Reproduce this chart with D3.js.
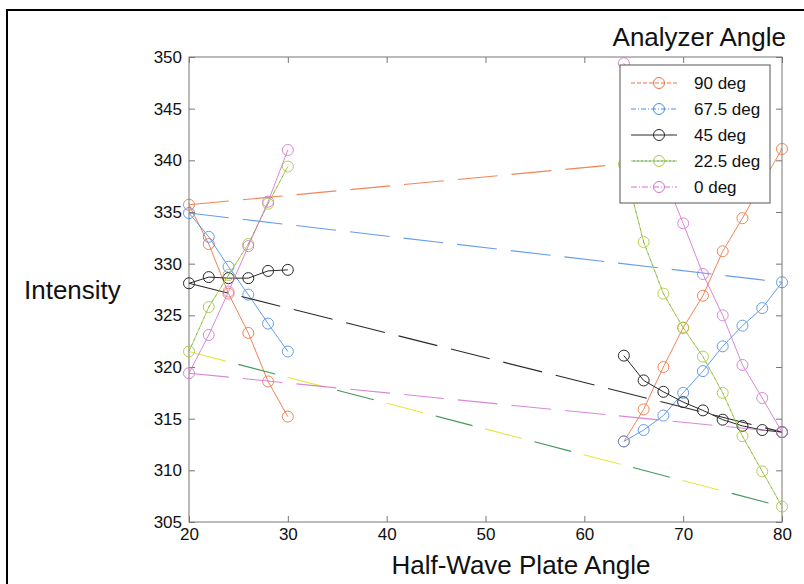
<!DOCTYPE html>
<html><head><meta charset="utf-8">
<script src="https://cdn.jsdelivr.net/npm/d3@7"></script>
<style>
html,body{margin:0;padding:0;background:#fff;}
text{font-family:Arial,"Liberation Sans",sans-serif;fill:#111;}
</style></head>
<body><svg id="chart" width="804" height="584"></svg>
<script>
// ---- data ----
const angles = [20,22,24,26,28,30,64,66,68,70,72,74,76,78,80];
const deg90  = [335.7,331.9,327.1,323.3,318.6,315.2, 312.8,315.9,320.0,323.8,326.9,331.2,334.4,337.8,341.1];
const deg675 = [334.9,332.6,329.7,327.0,324.2,321.5, 312.8,313.9,315.3,317.5,319.6,322.0,324.0,325.7,328.2];
const deg45  = [328.1,328.7,328.6,328.6,329.3,329.4, 321.1,318.7,317.6,316.6,315.8,314.9,314.3,313.9,313.7];
const deg225 = [321.5,325.8,328.9,331.9,335.8,339.4, 339.6,332.1,327.1,323.8,321.0,317.5,313.3,309.9,306.5];
const deg0   = [319.4,323.1,327.3,331.7,336.0,341.0, 349.4,344.0,338.7,333.9,329.0,325.0,320.2,317.0,313.7];
const seriesNames = ["90 deg","67.5 deg","45 deg","22.5 deg","0 deg"];
const xTicks = [20,30,40,50,60,70,80];
const yTicks = [305,310,315,320,325,330,335,340,345,350];

const seriesValues = [deg90, deg675, deg45, deg225, deg0];
const styles = [
  {color:"#f0703a", op:0.85, legendDash:"4 2"},
  {color:"#4a8ee6", op:0.85, legendDash:"5 2 1 2"},
  {color:"#2a2a2a", op:1, legendDash:null},
  {color:"#a9c83c", op:0.9, legendDash:"2 2", alt:"#2e8b4a", altLong:"#e4e42a"},
  {color:"#d272cf", op:0.85, legendDash:"6 2 1 2"}
];

const svg = d3.select("#chart");
svg.append("rect").attr("x",0).attr("y",0).attr("width",804).attr("height",584).attr("fill","#fff");
// outer frame
svg.append("rect").attr("x",7).attr("y",10).attr("width",820).attr("height",600)
  .attr("fill","none").attr("stroke","#000").attr("stroke-width",2);

const L=189,R=782,T=57,B=522;
const x = d3.scaleLinear().domain([20,80]).range([L,R]);
const y = d3.scaleLinear().domain([305,350]).range([B,T]);

// axes box
svg.append("rect").attr("x",L).attr("y",T).attr("width",R-L).attr("height",B-T)
  .attr("fill","none").attr("stroke","#777").attr("stroke-width",1);

function styleAxis(g){
  g.select(".domain").remove();
  g.selectAll(".tick line").attr("stroke","#777");
  g.selectAll("text").attr("fill","#111").style("font-size","17px").style("font-family","Arial, 'Liberation Sans', sans-serif");
}
svg.append("g").attr("transform",`translate(${L},0)`)
  .call(d3.axisLeft(y).tickValues(yTicks).tickSize(-6).tickPadding(7).tickFormat(d3.format("d"))).call(styleAxis);
svg.append("g").attr("transform",`translate(${R},0)`)
  .call(d3.axisRight(y).tickValues(yTicks).tickSize(-6).tickFormat("")).call(styleAxis);
svg.append("g").attr("transform",`translate(0,${B})`)
  .call(d3.axisBottom(x).tickValues(xTicks).tickSize(-6).tickPadding(6).tickFormat(d3.format("d"))).call(styleAxis);
svg.append("g").attr("transform",`translate(0,${T})`)
  .call(d3.axisTop(x).tickValues(xTicks).tickSize(-6).tickFormat("")).call(styleAxis);

// titles
svg.append("text").attr("x",521).attr("y",574).attr("text-anchor","middle")
  .style("font-size","26px").text("Half-Wave Plate Angle");
svg.append("text").attr("x",24).attr("y",299).style("font-size","26px").text("Intensity");
svg.append("text").attr("x",786).attr("y",46).attr("text-anchor","end")
  .style("font-size","26px").text("Analyzer Angle");

// series
const iMin = angles.indexOf(d3.min(angles)), iMax = angles.indexOf(d3.max(angles));
seriesValues.forEach((vals,si)=>{
  const st = styles[si];
  const g = svg.append("g").attr("opacity",st.op);
  // short segments inside each cluster
  for(let i=0;i<angles.length-1;i++){
    if(angles[i+1]-angles[i] > 2) continue;
    g.append("line").attr("x1",x(angles[i])).attr("y1",y(vals[i]))
      .attr("x2",x(angles[i+1])).attr("y2",y(vals[i+1]))
      .attr("stroke",st.color).attr("stroke-width",1);
    if(st.alt){
      g.append("line").attr("x1",x(angles[i])).attr("y1",y(vals[i]))
        .attr("x2",x(angles[i+1])).attr("y2",y(vals[i+1]))
        .attr("stroke",st.alt).attr("stroke-width",1).attr("stroke-dasharray","2 4").attr("opacity",0.5);
    }
  }
  // long connector between the 20 deg and 80 deg points
  const lc = g.append("line").attr("x1",x(angles[iMin])).attr("y1",y(vals[iMin]))
    .attr("x2",x(angles[iMax])).attr("y2",y(vals[iMax])).attr("stroke-width",1.1);
  if(st.alt){
    lc.attr("stroke",st.altLong).attr("stroke-dasharray","38 64");
    g.append("line").attr("x1",x(angles[iMin])).attr("y1",y(vals[iMin]))
      .attr("x2",x(angles[iMax])).attr("y2",y(vals[iMax])).attr("stroke-width",1.1)
      .attr("stroke",st.alt).attr("stroke-dasharray","38 64").attr("stroke-dashoffset",-51);
  } else {
    lc.attr("stroke",st.color).attr("stroke-dasharray","40 14");
  }
  // markers
  g.selectAll("circle").data(angles).join("circle")
    .attr("cx",(d)=>x(d)).attr("cy",(d,i)=>y(vals[i])).attr("r",5.5)
    .attr("fill","none").attr("stroke",st.color).attr("stroke-width",1);
});

// legend
const lg = svg.append("g");
lg.append("rect").attr("x",620).attr("y",65).attr("width",150).attr("height",138)
  .attr("fill","#fff").attr("stroke","#555").attr("stroke-width",1);
seriesNames.forEach((name,i)=>{
  const st = styles[i];
  const cy = 83 + i*26;
  const ln = lg.append("line").attr("x1",631).attr("x2",677).attr("y1",cy).attr("y2",cy)
    .attr("stroke",st.color).attr("stroke-width",1);
  if(st.legendDash) ln.attr("stroke-dasharray",st.legendDash);
  if(st.alt){
    lg.append("line").attr("x1",631).attr("x2",677).attr("y1",cy).attr("y2",cy)
      .attr("stroke",st.alt).attr("stroke-width",1).attr("stroke-dasharray","2 2").attr("stroke-dashoffset",2);
  }
  lg.append("circle").attr("cx",659).attr("cy",cy).attr("r",5.5)
    .attr("fill","none").attr("stroke",st.color).attr("stroke-width",1);
  lg.append("text").attr("x",694).attr("y",cy+6).style("font-size","17px").text(name);
});
</script>
</body></html>
